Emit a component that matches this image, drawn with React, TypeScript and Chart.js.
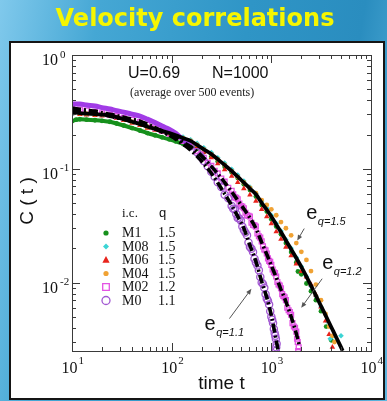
import React, { useEffect, useRef } from "react";
import { Chart, registerables } from "chart.js";

Chart.register(...registerables);

// ---------- axis ticks ----------
const xTickValues = [10, 100, 1000, 10000];
const xTickExps = ["1", "2", "3", "4"];
const yTickValues = [1, 0.1, 0.01];
const yTickExps = ["0", "-1", "-2"];

// ---------- fit curves ----------
const fitT15 = [10, 12, 14, 17, 20, 24, 28, 33, 40, 48, 57, 68, 80, 95, 110, 130, 155, 180, 210, 250, 290, 340, 400, 460, 530, 610, 700, 800, 900, 1000, 1120, 1250, 1400, 1580, 1780, 2000, 2250, 2500, 2800, 3150, 3500, 4000, 4500, 5200];
const fitC15 = [0.315, 0.308, 0.305, 0.302, 0.299, 0.296, 0.284, 0.273, 0.259, 0.247, 0.234, 0.225, 0.215, 0.206, 0.197, 0.186, 0.176, 0.162, 0.148, 0.1345, 0.121, 0.108, 0.0955, 0.0851, 0.0755, 0.067, 0.0596, 0.0501, 0.0436, 0.038, 0.0324, 0.0278, 0.0234, 0.0196, 0.0164, 0.01374, 0.01127, 0.0094, 0.00767, 0.00622, 0.00514, 0.00404, 0.00327, 0.00251];

const fitT12 = [10, 12, 14, 17, 20, 24, 28, 33, 40, 48, 57, 68, 80, 95, 110, 130, 155, 180, 210, 250, 290, 340, 400, 460, 530, 610, 700, 800, 900, 1000, 1120, 1250, 1400, 1580, 1780, 1900];
const fitC12 = [0.328, 0.321, 0.315, 0.308, 0.299, 0.29, 0.281, 0.273, 0.262, 0.249, 0.237, 0.223, 0.21, 0.197, 0.186, 0.171, 0.156, 0.141, 0.124, 0.105, 0.0903, 0.076, 0.0627, 0.0528, 0.0444, 0.037, 0.0299, 0.0225, 0.0177, 0.0141, 0.0111, 0.00867, 0.0068, 0.00501, 0.00356, 0.00284];

const fitT11 = [10, 12, 14, 17, 20, 24, 28, 33, 40, 48, 57, 68, 80, 95, 110, 130, 155, 180, 210, 250, 290, 340, 400, 460, 530, 610, 700, 800, 900, 1000, 1120, 1180];
const fitC11 = [0.341, 0.334, 0.328, 0.321, 0.311, 0.302, 0.293, 0.284, 0.273, 0.262, 0.247, 0.23, 0.214, 0.197, 0.182, 0.164, 0.146, 0.129, 0.111, 0.0912, 0.0753, 0.0602, 0.0477, 0.0381, 0.0299, 0.0212, 0.0153, 0.0102, 0.00738, 0.00512, 0.00308, 0.00242];

// ---------- simulation data ----------
const m1T = [10, 11, 12, 14, 17, 20, 24, 28, 33, 40, 48, 57, 68, 80, 95, 110, 130, 155, 180, 210, 250, 290, 340, 400, 460, 530, 610, 700, 800, 900, 1000, 1120, 1250, 1400, 1580, 1780, 1850, 2000, 2250, 2500, 2800, 3150, 3550, 4000];
const m1C = [0.262, 0.27, 0.272, 0.27, 0.267, 0.264, 0.259, 0.25, 0.24, 0.228, 0.217, 0.206, 0.197, 0.189, 0.181, 0.174, 0.166, 0.16, 0.15, 0.14, 0.128, 0.116, 0.104, 0.093, 0.083, 0.073, 0.065, 0.057, 0.048, 0.042, 0.036, 0.031, 0.0265, 0.0222, 0.0185, 0.015, 0.0125, 0.0118, 0.0098, 0.0084, 0.007, 0.0056, 0.0041, 0.0031];

const m08T = [10, 12, 14, 17, 20, 24, 28, 33, 40, 48, 57, 68, 80, 95, 110, 130, 155, 180, 210, 250, 290, 340, 400, 460, 530, 610, 700, 800, 900, 1000, 1120, 1250, 1400, 1580, 1780, 2000, 2250, 2500, 2800, 3150, 3600, 3900, 4300, 5000];
const m08C = [0.3, 0.305, 0.303, 0.3, 0.297, 0.293, 0.283, 0.272, 0.259, 0.247, 0.236, 0.227, 0.218, 0.209, 0.2, 0.19, 0.18, 0.167, 0.153, 0.139, 0.125, 0.112, 0.099, 0.088, 0.078, 0.069, 0.061, 0.052, 0.045, 0.039, 0.033, 0.0283, 0.0238, 0.02, 0.0166, 0.0138, 0.0113, 0.0093, 0.0076, 0.0061, 0.0046, 0.0032, 0.0034, 0.0034];

const m06T = [10, 12, 14, 17, 20, 24, 28, 33, 40, 48, 57, 68, 80, 95, 110, 130, 155, 180, 210, 250, 290, 340, 400, 460, 530, 610, 700, 800, 900, 1000, 1120, 1250, 1400, 1580, 1780, 2000, 2250, 2500, 2800, 3150, 3500, 3800, 4100];
const m06C = [0.305, 0.3, 0.298, 0.295, 0.292, 0.288, 0.277, 0.266, 0.252, 0.24, 0.228, 0.219, 0.209, 0.2, 0.191, 0.18, 0.169, 0.155, 0.14, 0.125, 0.111, 0.098, 0.086, 0.076, 0.067, 0.059, 0.052, 0.044, 0.038, 0.033, 0.028, 0.024, 0.0205, 0.0172, 0.0146, 0.0125, 0.0112, 0.0096, 0.0078, 0.0061, 0.0046, 0.0035, 0.0027];

const m04T = [10, 12, 14, 17, 20, 24, 28, 33, 40, 48, 57, 68, 80, 95, 110, 130, 155, 180, 210, 250, 290, 340, 400, 460, 530, 610, 700, 800, 900, 1000, 1120, 1250, 1400, 1580, 1780, 2000, 2250, 2500, 2800, 3150, 3500, 3800, 4100, 4300];
const m04C = [0.31, 0.308, 0.305, 0.302, 0.299, 0.296, 0.284, 0.273, 0.259, 0.247, 0.234, 0.225, 0.215, 0.206, 0.197, 0.186, 0.176, 0.162, 0.148, 0.134, 0.121, 0.108, 0.0955, 0.085, 0.0757, 0.068, 0.061, 0.053, 0.048, 0.044, 0.039, 0.034, 0.03, 0.026, 0.0222, 0.0186, 0.0158, 0.0126, 0.0096, 0.007, 0.0053, 0.0041, 0.0034, 0.003];

const m02T = [10, 12, 14, 17, 20, 24, 28, 33, 40, 48, 57, 68, 80, 95, 110, 130, 155, 180, 195, 210, 230, 250, 270, 290, 315, 340, 370, 400, 415, 430, 445, 460, 478, 495, 512, 530, 550, 570, 590, 610, 632, 655, 678, 700, 725, 750, 775, 800, 825, 850, 875, 900, 925, 950, 975, 1000, 1030, 1060, 1090, 1120, 1150, 1180, 1215, 1250, 1285, 1320, 1360, 1400, 1445, 1490, 1535, 1580, 1630, 1680, 1730, 1780, 1810, 1840, 1880, 1860];
const m02C = [0.34, 0.332, 0.325, 0.317, 0.308, 0.299, 0.29, 0.281, 0.27, 0.257, 0.244, 0.23, 0.216, 0.203, 0.191, 0.176, 0.16, 0.143, 0.134, 0.125, 0.113, 0.106, 0.096, 0.091, 0.082, 0.077, 0.068, 0.064, 0.0595, 0.056, 0.0555, 0.054, 0.0495, 0.047, 0.0465, 0.045, 0.041, 0.039, 0.0385, 0.038, 0.0335, 0.032, 0.0318, 0.031, 0.027, 0.0255, 0.0248, 0.023, 0.0208, 0.0195, 0.0192, 0.018, 0.0163, 0.0155, 0.0152, 0.0143, 0.013, 0.0123, 0.0121, 0.0113, 0.0101, 0.0096, 0.0094, 0.0089, 0.0079, 0.0076, 0.0074, 0.007, 0.006, 0.0057, 0.0055, 0.0052, 0.0044, 0.0041, 0.004, 0.0037, 0.0032, 0.003, 0.0027, 0.0025];

const m0T = [10, 12, 14, 17, 20, 24, 28, 33, 40, 48, 57, 68, 80, 95, 110, 130, 155, 180, 195, 210, 230, 250, 270, 290, 315, 340, 370, 400, 415, 430, 445, 460, 478, 495, 512, 530, 550, 570, 590, 610, 632, 655, 678, 700, 725, 750, 775, 800, 825, 850, 875, 900, 925, 950, 975, 1000, 1020, 1040, 1060, 1080, 1095, 1110, 1130, 1120, 1110];
const m0C = [0.37, 0.37, 0.363, 0.356, 0.345, 0.335, 0.324, 0.315, 0.302, 0.29, 0.273, 0.255, 0.237, 0.222, 0.205, 0.18, 0.158, 0.14, 0.128, 0.117, 0.105, 0.094, 0.085, 0.076, 0.069, 0.059, 0.055, 0.047, 0.0445, 0.044, 0.04, 0.037, 0.0365, 0.035, 0.031, 0.029, 0.0275, 0.026, 0.0225, 0.0205, 0.0198, 0.0185, 0.0162, 0.015, 0.0141, 0.0128, 0.0112, 0.01, 0.0097, 0.009, 0.0079, 0.0072, 0.0069, 0.0064, 0.0056, 0.005, 0.0047, 0.0044, 0.0039, 0.0036, 0.0034, 0.0032, 0.0029, 0.0027, 0.0025];

// ---------- legend ----------
const legendNames = ["M1", "M08", "M06", "M04", "M02", "M0"];
const legendQ = ["1.5", "1.5", "1.5", "1.5", "1.2", "1.1"];

// ---------- annotations (data coordinates) ----------
const annSub = ["q=1.5", "q=1.2", "q=1.1"];
const annLabelAt = [[2239, 0.0359], [3236, 0.0131], [214, 0.00386]];
const annArrowFrom = [[2138, 0.0298], [3236, 0.0108], [380, 0.00482]];
const annArrowTo = [[1820, 0.0234], [1995, 0.006], [631, 0.0088]];

// ---------- styles ----------
const SERIF = "'Liberation Serif','Times New Roman',serif";
const SANS = "'Liberation Sans',Arial,sans-serif";
const GREEN = "#16901c";
const CYAN = "#3cd4d4";
const RED = "#e8241c";
const ORANGE = "#f0a234";
const MAGENTA = "#e452e4";
const PURPLE = "#a258d2";
const PURPLE_BAND = "#a13be6";

const legendStyles = [
  { shape: "circle", r: 2.6, fill: GREEN, stroke: null },
  { shape: "rectRot", r: 3, fill: CYAN, stroke: null },
  { shape: "triangle", r: 3.6, fill: RED, stroke: null },
  { shape: "circle", r: 2.6, fill: ORANGE, stroke: null },
  { shape: "rect", r: 3.3, fill: null, stroke: MAGENTA },
  { shape: "circle", r: 4, fill: null, stroke: PURPLE },
];

const pts = (ts: number[], cs: number[]) => ts.map((t, i) => ({ x: t, y: cs[i] }));

function drawMarker(ctx: CanvasRenderingContext2D, shape: string, x: number, y: number, r: number, fill: string | null, stroke: string | null) {
  ctx.beginPath();
  if (shape === "circle") ctx.arc(x, y, r, 0, Math.PI * 2);
  else if (shape === "rect") ctx.rect(x - r, y - r, 2 * r, 2 * r);
  else if (shape === "triangle") {
    ctx.moveTo(x, y - r * 1.1);
    ctx.lineTo(x + r, y + r * 0.75);
    ctx.lineTo(x - r, y + r * 0.75);
    ctx.closePath();
  } else if (shape === "rectRot") {
    ctx.moveTo(x, y - r);
    ctx.lineTo(x + r, y);
    ctx.lineTo(x, y + r);
    ctx.lineTo(x - r, y);
    ctx.closePath();
  }
  if (fill) {
    ctx.fillStyle = fill;
    ctx.fill();
  }
  if (stroke) {
    ctx.strokeStyle = stroke;
    ctx.lineWidth = 1.3;
    ctx.stroke();
  }
}

function drawArrow(ctx: CanvasRenderingContext2D, x1: number, y1: number, x2: number, y2: number) {
  const ang = Math.atan2(y2 - y1, x2 - x1);
  ctx.strokeStyle = "#555";
  ctx.fillStyle = "#555";
  ctx.lineWidth = 1;
  ctx.beginPath();
  ctx.moveTo(x1, y1);
  ctx.lineTo(x2 - 4 * Math.cos(ang), y2 - 4 * Math.sin(ang));
  ctx.stroke();
  ctx.beginPath();
  ctx.moveTo(x2, y2);
  ctx.lineTo(x2 - 6 * Math.cos(ang - 0.4), y2 - 6 * Math.sin(ang - 0.4));
  ctx.lineTo(x2 - 6 * Math.cos(ang + 0.4), y2 - 6 * Math.sin(ang + 0.4));
  ctx.closePath();
  ctx.fill();
}

const decorPlugin = {
  id: "decor",
  afterDatasetsDraw(chart: any) {
    const ctx: CanvasRenderingContext2D = chart.ctx;
    const a = chart.chartArea;
    const xs = chart.scales.x;
    const ys = chart.scales.y;
    ctx.save();

    // frame
    ctx.strokeStyle = "#3a3a3a";
    ctx.lineWidth = 1;
    ctx.strokeRect(Math.round(a.left) + 0.5, Math.round(a.top) + 0.5, Math.round(a.right - a.left), Math.round(a.bottom - a.top));

    // inward ticks on all sides
    ctx.beginPath();
    for (let e = 1; e <= 4; e++) {
      for (let m = 1; m <= 9; m++) {
        const v = m * Math.pow(10, e);
        if (v > xs.max * 1.0001) break;
        const px = Math.round(xs.getPixelForValue(v)) + 0.5;
        const L = m === 1 ? 8 : 4;
        ctx.moveTo(px, a.bottom);
        ctx.lineTo(px, a.bottom - L);
        ctx.moveTo(px, a.top);
        ctx.lineTo(px, a.top + L);
      }
    }
    for (let e = -3; e <= 0; e++) {
      for (let m = 1; m <= 9; m++) {
        const v = m * Math.pow(10, e);
        if (v < ys.min || v > ys.max * 1.0001) continue;
        const py = Math.round(ys.getPixelForValue(v)) + 0.5;
        const L = m === 1 ? 8 : 4;
        ctx.moveTo(a.left, py);
        ctx.lineTo(a.left + L, py);
        ctx.moveTo(a.right, py);
        ctx.lineTo(a.right - L, py);
      }
    }
    ctx.stroke();

    // tick labels
    ctx.fillStyle = "#111";
    ctx.textBaseline = "alphabetic";
    xTickValues.forEach((v, i) => {
      const px = xs.getPixelForValue(v);
      const cx = px - 2.5;
      ctx.font = `16px ${SERIF}`;
      ctx.textAlign = "center";
      ctx.fillText("10", cx, a.bottom + 22);
      const w = ctx.measureText("10").width;
      ctx.font = `11px ${SERIF}`;
      ctx.textAlign = "left";
      ctx.fillText(xTickExps[i], cx + w / 2 + 1, a.bottom + 13);
    });
    yTickValues.forEach((v, i) => {
      const py = ys.getPixelForValue(v);
      ctx.font = `16px ${SERIF}`;
      ctx.textAlign = "right";
      ctx.fillText("10", a.left - 14, py + 10);
      ctx.font = `11px ${SERIF}`;
      ctx.textAlign = "left";
      ctx.fillText(yTickExps[i], a.left - 12, py + 2.5);
    });

    // axis titles
    ctx.font = `19px ${SANS}`;
    ctx.textAlign = "center";
    ctx.textBaseline = "middle";
    ctx.save();
    ctx.translate(a.left - 44, (a.top + a.bottom) / 2 - 2);
    ctx.rotate(-Math.PI / 2);
    ctx.fillText("C ( t )", 0, 0);
    ctx.restore();
    ctx.fillText("time t", (a.left + a.right) / 2, a.bottom + 33);

    // header text
    ctx.textBaseline = "alphabetic";
    ctx.textAlign = "left";
    ctx.font = `16px ${SANS}`;
    ctx.fillText("U=0.69", a.left + 56, a.top + 23);
    ctx.fillText("N=1000", a.left + 140, a.top + 23);
    ctx.font = `12px ${SERIF}`;
    ctx.fillStyle = "#222";
    ctx.fillText("(average over 500 events)", a.left + 58, a.top + 41);

    // legend
    ctx.fillStyle = "#111";
    ctx.font = `13px ${SERIF}`;
    ctx.fillText("i.c.", a.left + 50, a.top + 162);
    ctx.font = `13px ${SANS}`;
    ctx.fillText("q", a.left + 87, a.top + 162);
    legendNames.forEach((n, i) => {
      const by = a.top + 182 + i * 13.5;
      const st = legendStyles[i];
      drawMarker(ctx, st.shape, a.left + 34, by - 4, st.r, st.fill, st.stroke);
      ctx.fillStyle = "#111";
      ctx.font = `14px ${SERIF}`;
      ctx.fillText(n, a.left + 50, by);
      ctx.fillText(legendQ[i], a.left + 86, by);
    });

    // e_q annotations with arrows
    annSub.forEach((s, i) => {
      const lx = xs.getPixelForValue(annLabelAt[i][0]);
      const ly = ys.getPixelForValue(annLabelAt[i][1]);
      ctx.fillStyle = "#111";
      ctx.font = `20px ${SANS}`;
      ctx.fillText("e", lx, ly);
      const w = ctx.measureText("e").width;
      ctx.font = `italic 11px ${SANS}`;
      ctx.fillText(s, lx + w + 0.5, ly + 6);
      drawArrow(
        ctx,
        xs.getPixelForValue(annArrowFrom[i][0]),
        ys.getPixelForValue(annArrowFrom[i][1]),
        xs.getPixelForValue(annArrowTo[i][0]),
        ys.getPixelForValue(annArrowTo[i][1])
      );
    });

    // slide title
    ctx.font = `bold 24px 'DejaVu Sans', ${SANS}`;
    ctx.fillStyle = "#f6f600";
    ctx.textAlign = "center";
    ctx.fillText("Velocity correlations", 195, 26);

    ctx.restore();
  },
};

export default function App() {
  const ref = useRef<HTMLCanvasElement>(null);
  useEffect(() => {
    const canvas = ref.current;
    if (!canvas) return;
    const earlyOnly = (color: string, limit: number) => (c: any) =>
      c.p1.parsed.x <= limit ? color : "rgba(0,0,0,0)";
    const chart = new Chart(canvas, {
      type: "scatter",
      data: {
        datasets: [
          {
            label: "e q=1.5",
            data: pts(fitT15, fitC15),
            showLine: true,
            borderColor: "#000",
            borderWidth: 3.8,
            pointRadius: 0,
            cubicInterpolationMode: "monotone",
            order: 0,
            clip: 0,
          },
          {
            label: "e q=1.2",
            data: pts(fitT12, fitC12),
            showLine: true,
            borderColor: "#000",
            borderWidth: 3.6,
            borderDash: [9, 3, 2, 3],
            pointRadius: 0,
            cubicInterpolationMode: "monotone",
            order: 0,
            clip: 0,
          },
          {
            label: "e q=1.1",
            data: pts(fitT11, fitC11),
            showLine: true,
            borderColor: "#000",
            borderWidth: 3.6,
            borderDash: [9, 3, 2, 3],
            pointRadius: 0,
            cubicInterpolationMode: "monotone",
            order: 0,
            clip: 0,
          },
          {
            label: "M04",
            data: pts(m04T, m04C),
            pointStyle: "circle",
            pointRadius: 2.4,
            pointBackgroundColor: ORANGE,
            pointBorderWidth: 0,
            order: 3,
            clip: 0,
          },
          {
            label: "M06",
            data: pts(m06T, m06C),
            pointStyle: "triangle",
            pointRadius: 3.2,
            pointBackgroundColor: RED,
            pointBorderWidth: 0,
            order: 4,
            clip: 0,
          },
          {
            label: "M08",
            data: pts(m08T, m08C),
            pointStyle: "rectRot",
            pointRadius: 2.8,
            pointBackgroundColor: CYAN,
            pointBorderWidth: 0,
            order: 5,
            clip: 0,
          },
          {
            label: "M1",
            data: pts(m1T, m1C),
            showLine: true,
            borderColor: GREEN,
            borderWidth: 4,
            segment: { borderColor: earlyOnly(GREEN, 200) },
            cubicInterpolationMode: "monotone",
            pointStyle: "circle",
            pointRadius: 2.4,
            pointBackgroundColor: GREEN,
            pointBorderWidth: 0,
            order: 6,
            clip: 0,
          },
          {
            label: "M02",
            data: pts(m02T, m02C),
            pointStyle: "rect",
            pointRadius: 3.4,
            pointBackgroundColor: "rgba(0,0,0,0)",
            pointBorderColor: MAGENTA,
            pointBorderWidth: 1.3,
            order: 2,
            clip: 0,
          },
          {
            label: "M0",
            data: pts(m0T, m0C),
            showLine: true,
            borderColor: PURPLE_BAND,
            borderWidth: 5,
            segment: { borderColor: earlyOnly(PURPLE_BAND, 160) },
            cubicInterpolationMode: "monotone",
            pointStyle: "circle",
            pointRadius: (c: any) => (c.raw && c.raw.x <= 150 ? 0 : 3.6),
            pointBackgroundColor: "rgba(0,0,0,0)",
            pointBorderColor: PURPLE,
            pointBorderWidth: 1.3,
            order: 1,
            clip: 0,
          },
        ] as any,
      },
      options: {
        animation: false,
        responsive: false,
        devicePixelRatio: 1,
        events: [],
        layout: { padding: { left: 72, top: 55, right: 16, bottom: 50 } },
        plugins: { legend: { display: false }, tooltip: { enabled: false } },
        scales: {
          x: { type: "logarithmic", min: 10, max: 10000, display: false },
          y: { type: "logarithmic", min: 0.0025, max: 1, display: false },
        },
      } as any,
      plugins: [decorPlugin],
    });
    return () => chart.destroy();
  }, []);

  return (
    <div
      style={{
        position: "absolute",
        left: 0,
        top: 0,
        width: 387,
        height: 401,
        overflow: "hidden",
        background:
          "linear-gradient(100deg, #80c9ec 0%, #45a7d4 22%, #2f95c6 55%, #2a8dbf 80%, #5fb7df 100%)",
      }}
    >
      <div
        style={{
          position: "absolute",
          left: 9,
          top: 41,
          width: 372,
          height: 355,
          background: "#ffffff",
          border: "2px solid #151515",
        }}
      />
      <canvas
        ref={ref}
        width={387}
        height={401}
        style={{ position: "absolute", left: 0, top: 0, width: 387, height: 401 }}
      />
    </div>
  );
}
